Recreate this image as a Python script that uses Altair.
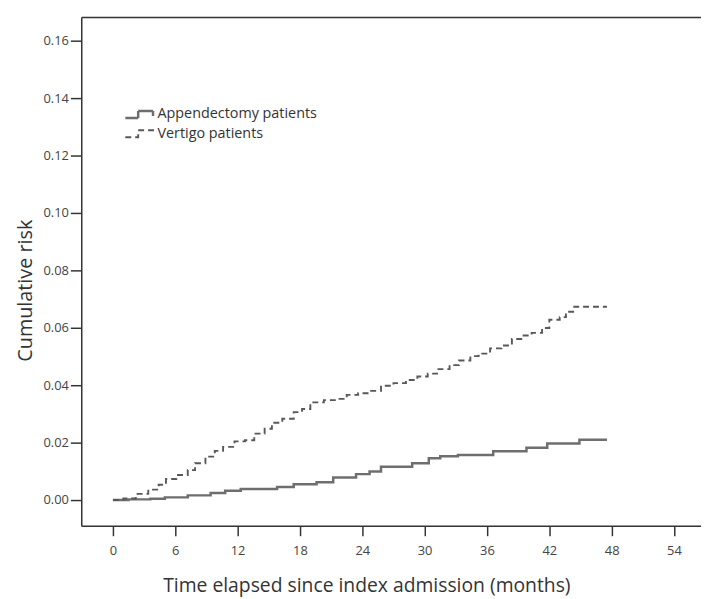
import altair as alt
import pandas as pd

groups = ["Appendectomy patients", "Vertigo patients"]

app_months = [0, 1.5, 3.6, 5.0, 7.2, 9.4, 10.8, 12.3, 15.8, 17.4, 19.6, 21.2,
              23.4, 24.7, 25.8, 28.8, 30.4, 31.5, 33.2, 36.6, 39.8, 41.8, 44.9, 47.55]
app_risk = [0, 0.0002, 0.0004, 0.0009, 0.0016, 0.0024, 0.0032, 0.0038, 0.0045, 0.0055,
            0.0062, 0.0078, 0.0090, 0.0099, 0.0116, 0.0128, 0.0145, 0.0152, 0.0157,
            0.0170, 0.0182, 0.0197, 0.0210, 0.0210]

ver_months = [0, 1.0, 2.2, 3.4, 4.4, 5.1, 6.1, 7.2, 7.9, 8.9, 9.8, 10.6, 11.7, 12.7,
              13.6, 14.6, 15.3, 16.3, 17.4, 18.2, 19.0, 20.3, 21.5, 22.5, 23.6, 24.7,
              25.8, 27.0, 28.2, 29.3, 30.3, 31.2, 32.4, 33.3, 34.4, 35.2, 36.3, 37.4,
              38.4, 39.3, 40.3, 41.3, 42.0, 43.0, 43.6, 44.4, 47.55]
ver_risk = [0, 0.0005, 0.0021, 0.0036, 0.0053, 0.0073, 0.0087, 0.0104, 0.0128, 0.0151,
            0.0171, 0.0185, 0.0204, 0.0208, 0.0231, 0.0248, 0.0269, 0.0283, 0.0306,
            0.0317, 0.0340, 0.0348, 0.0352, 0.0366, 0.0372, 0.0380, 0.0398, 0.0407,
            0.0418, 0.0430, 0.0440, 0.0456, 0.0470, 0.0486, 0.0501, 0.0510, 0.0528,
            0.0538, 0.0561, 0.0573, 0.0582, 0.0599, 0.0628, 0.0637, 0.0656, 0.0673,
            0.0673]

x_ticks = [0, 6, 12, 18, 24, 30, 36, 42, 48, 54]
y_ticks = [0.00, 0.02, 0.04, 0.06, 0.08, 0.10, 0.12, 0.14, 0.16]

df = pd.concat([
    pd.DataFrame({"month": app_months, "risk": app_risk, "group": groups[0]}),
    pd.DataFrame({"month": ver_months, "risk": ver_risk, "group": groups[1]}),
])

step_symbol = "M-1.5,0.35H-0.2V-0.35H1.3V0.15"

x_scale = alt.Scale(domain=[-3.05, 56.6], nice=False, zero=False)
y_scale = alt.Scale(domain=[-0.009, 0.1683], nice=False, zero=False)

y_enc = alt.Y("risk:Q", scale=y_scale,
              axis=alt.Axis(values=y_ticks, format=".2f", title="Cumulative risk",
                            tickSize=11, labelPadding=2, titleX=-50, titleY=276,
                            titleFontSize=20,
                            titleAlign="center", titleBaseline="alphabetic", titleAngle=270))

legend = alt.Legend(title=None, orient="none", legendX=48, legendY=87,
                    symbolType=step_symbol, symbolSize=400, symbolStrokeWidth=1.4,
                    labelFont="Open Sans", labelFontSize=14.5, labelColor="#333",
                    labelLimit=0, labelOffset=6, rowPadding=0, padding=0)

lines = alt.Chart(df).mark_line(interpolate="step-after").encode(
    x=alt.X("month:Q", scale=x_scale,
            axis=alt.Axis(values=x_ticks, title="Time elapsed since index admission (months)",
                          tickSize=10, labelPadding=9, titleX=288, titleY=66,
                          titleFontSize=19.5,
                          titleAlign="center", titleBaseline="alphabetic")),
    y=y_enc,
    color=alt.Color("group:N", scale=alt.Scale(domain=groups, range=["#6e6e6e", "#585858"]),
                    legend=legend),
    strokeDash=alt.StrokeDash("group:N", scale=alt.Scale(domain=groups, range=[[1, 0], [6, 4]]),
                              legend=legend),
    strokeWidth=alt.StrokeWidth("group:N", scale=alt.Scale(domain=groups, range=[2.5, 1.9]),
                                legend=None),
)

top = alt.Chart(df).mark_line(opacity=0).encode(
    x=alt.X("month:Q", scale=x_scale,
            axis=alt.Axis(orient="top", labels=False, ticks=False, title=None, domain=True)),
    y=y_enc,
)

chart = alt.layer(lines, top).resolve_axis(x="independent").properties(
    width=626, height=514,
    autosize=alt.AutoSizeParams(type="none"),
    padding={"left": 74, "top": 6, "right": 0, "bottom": 78},
    background="white",
).configure_view(stroke=None).configure_axis(
    grid=False, domainColor="#333", domainWidth=1.5, tickColor="#333", tickWidth=1.5,
    labelFont="Open Sans", labelFontSize=13, labelColor="#444",
    titleFont="Open Sans", titleFontSize=19, titleFontWeight="normal", titleColor="#333",
)

chart.save("out.html", embed_options={"renderer": "svg", "actions": False})
